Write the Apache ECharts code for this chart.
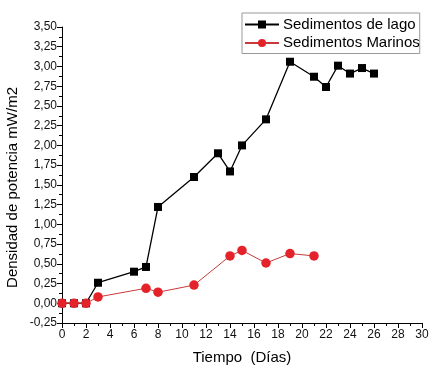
<!DOCTYPE html>
<html><head><meta charset="utf-8">
<script src="https://cdn.jsdelivr.net/npm/echarts@6/dist/echarts.min.js"></script>
<style>html,body{margin:0;padding:0;background:#fff}#c{width:442px;height:372px}</style>
</head><body><div id="c"></div>
<script>
const lakeDays = [0,1,2,3,6,7,8,11,13,14,15,17,19,21,22,23,24,25,26];
const lakeValues = [0,0,0,0.26,0.40,0.46,1.22,1.60,1.90,1.67,2.00,2.33,3.06,2.87,2.74,3.01,2.91,2.98,2.91];
const marineDays = [0,1,2,3,7,8,11,14,15,17,19,21];
const marineValues = [0,0,0,0.08,0.19,0.14,0.23,0.60,0.67,0.51,0.63,0.60];
const seriesNames = ['Sedimentos de lago','Sedimentos Marinos'];
const xTitle = 'Tiempo  (Días)';
const yTitle = 'Densidad de potencia mW/m2';

const font = 'Liberation Sans, Arial, sans-serif';
const chart = echarts.init(document.getElementById('c'));
const axisCommon = {
  axisLine:{show:true,onZero:false,lineStyle:{color:'#000',width:1}},
  axisTick:{show:true,inside:false,length:5,lineStyle:{color:'#000'}},
  minorTick:{show:true,splitNumber:2,length:3,lineStyle:{color:'#000'}},
  splitLine:{show:false},
  axisLabel:{color:'#111',fontSize:12,fontFamily:font}
};
chart.setOption({
  animation:false,
  grid:{left:62,right:20,top:27,bottom:49,containLabel:false},
  legend:{
    left:242, top:13, orient:'vertical',
    borderColor:'#999', borderWidth:1, padding:[4,0,3,2],
    itemWidth:34, itemHeight:10, itemGap:3.5,
    textStyle:{fontSize:15,fontFamily:font,color:'#000',padding:[0,0,0,-1]},
    data:seriesNames
  },
  xAxis:Object.assign({}, axisCommon, {
    type:'value', min:0, max:30, interval:2,
    name:xTitle, nameLocation:'middle', nameGap:27,
    nameTextStyle:{fontSize:15,fontFamily:font,color:'#000'},
    axisLabel:Object.assign({}, axisCommon.axisLabel, {margin:6})
  }),
  yAxis:Object.assign({}, axisCommon, {
    type:'value', min:-0.25, max:3.5, interval:0.25,
    axisLabel:Object.assign({}, axisCommon.axisLabel, {margin:5,
      formatter:v=>v.toFixed(2).replace('.',',')})
  }),
  graphic:[{
    type:'text', left:5, top:87,
    rotation:Math.PI/2,
    style:{text:yTitle, fontSize:15, fontFamily:font, fill:'#000'}
  }],
  series:[
    {name:seriesNames[0], type:'line', data:lakeDays.map((d,i)=>[d,lakeValues[i]]),
     symbol:'rect', symbolSize:8, itemStyle:{color:'#000'},
     lineStyle:{color:'#000',width:1.3}, z:2},
    {name:seriesNames[1], type:'line', data:marineDays.map((d,i)=>[d,marineValues[i]]),
     symbol:'circle', symbolSize:9.5, itemStyle:{color:'#e4222a'},
     lineStyle:{color:'#c83a3a',width:1}, z:3}
  ]
});
</script></body></html>
